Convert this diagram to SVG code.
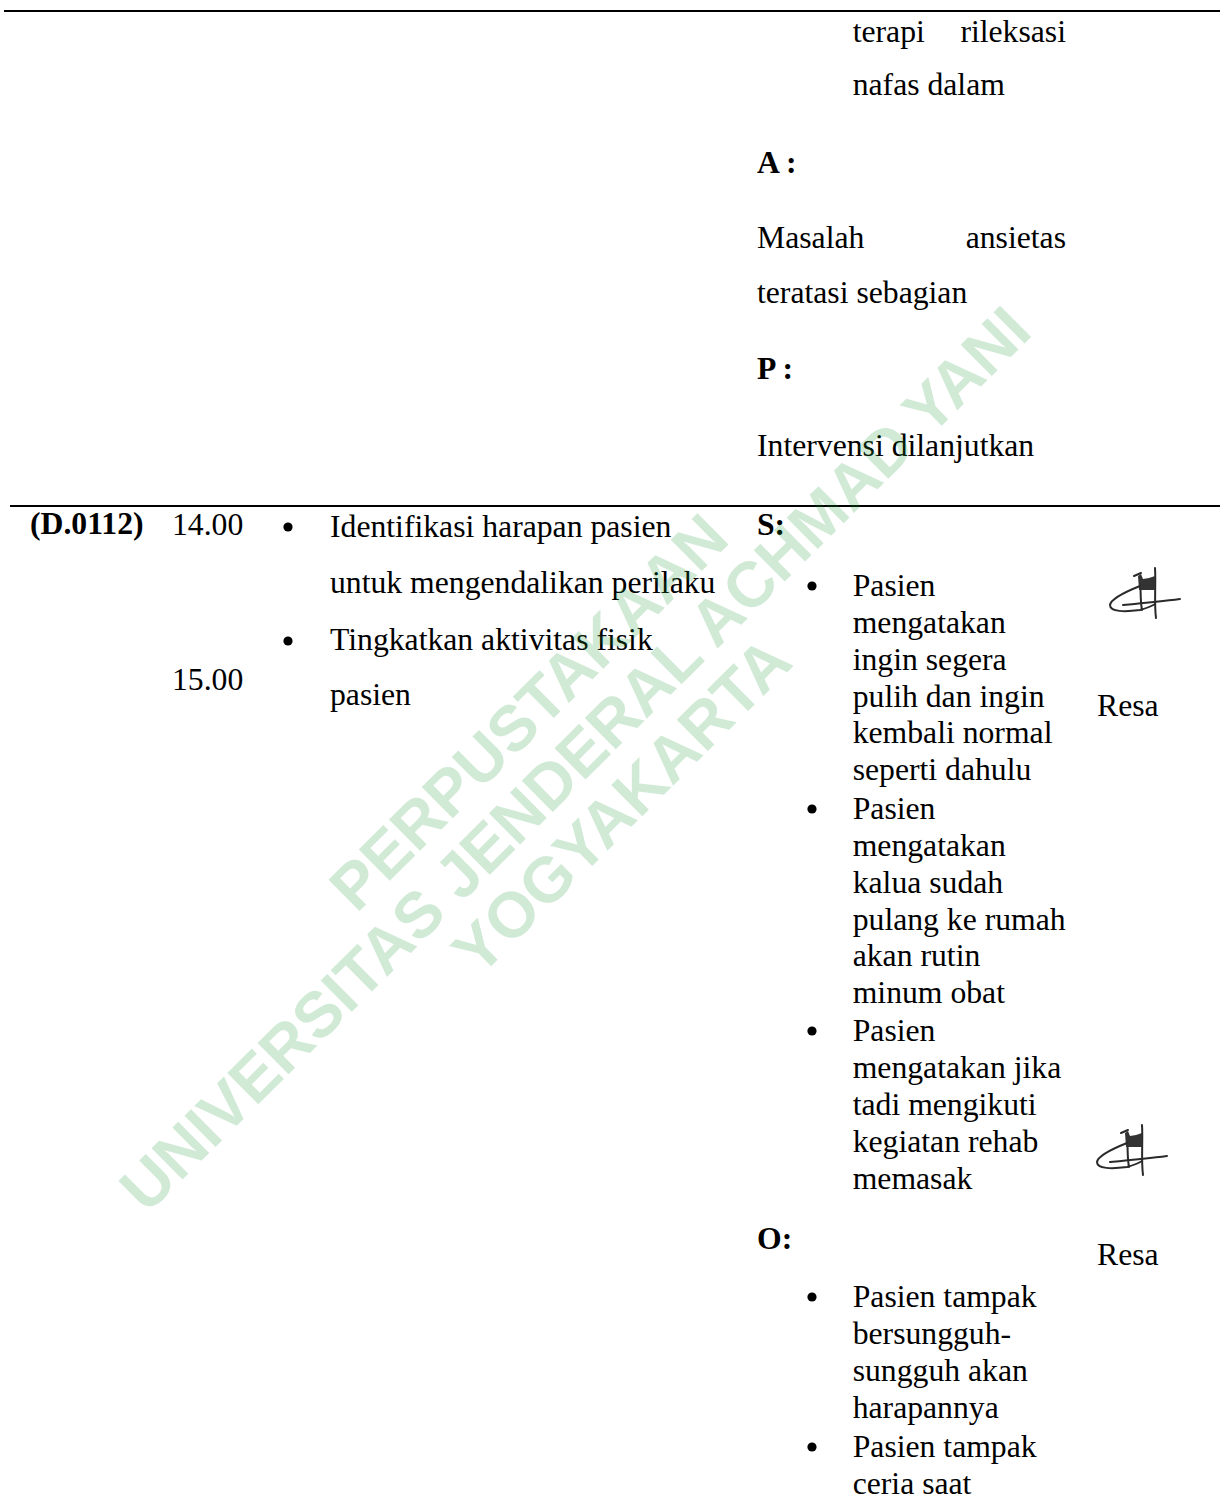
<svg xmlns="http://www.w3.org/2000/svg" width="1220" height="1497" viewBox="0 0 1220 1497">
<style>
text{font-family:"Liberation Serif","Times New Roman",serif;font-size:31.7px;fill:#000}
.b{font-weight:bold}
.e{text-anchor:end}
.rule{stroke:#000;stroke-width:2;fill:none}
.wm text{font-family:"Liberation Sans",Arial,sans-serif;font-weight:bold;font-size:64px;fill:rgb(30,155,55);text-anchor:middle}
.sig{fill:none;stroke:#2a2a2a;stroke-width:2;stroke-linecap:round;stroke-linejoin:round}
</style>
<defs>
<g id="signature">
<path class="sig" d="M0,0 C1,15 -1,35 1,50"/>
<path class="sig" d="M-15,9 C-14,20 -15,32 -13,42"/>
<path d="M-17,8 L-14,6 L-12,11 L-6,10 L0,8 L0,22 L-16,22 Z" fill="#333"/>
<path class="sig" d="M-21,8 L-14,5"/>
<path class="sig" d="M-15,18 C-25,22 -44,30 -45,37 C-45,44 -30,44 -15,42 C-8,40 -3,38 0,36"/>
<path class="sig" d="M-32,37 C-10,35 10,33 25,31"/>
</g>
</defs>
<rect width="1220" height="1497" fill="#fff"/>
<g id="rules">
<line class="rule" x1="4" y1="11" x2="1220" y2="11"/>
<line class="rule" x1="10" y1="506" x2="1220" y2="506"/>
</g>
<g id="prev-eval">
<text x="852.7" y="42">terapi</text>
<text class="e" x="1066" y="42">rileksasi</text>
<text x="852.7" y="95">nafas dalam</text>
<text class="b" x="757" y="173">A :</text>
<text x="757" y="248">Masalah</text>
<text class="e" x="1066" y="248">ansietas</text>
<text x="757" y="303">teratasi sebagian</text>
<text class="b" x="757" y="379">P :</text>
<text x="757" y="456">Intervensi dilanjutkan</text>
</g>
<g id="diagnosis">
<text class="b" x="30" y="534">(D.0112)</text>
</g>
<g id="times">
<text x="172" y="535">14.00</text>
<text x="172" y="690">15.00</text>
</g>
<g id="interventions">
<circle cx="288" cy="527" r="4.6"/>
<circle cx="288" cy="641" r="4.6"/>
<text x="330" y="537">Identifikasi harapan pasien</text>
<text x="330" y="593">untuk mengendalikan perilaku</text>
<text x="330" y="650">Tingkatkan aktivitas fisik</text>
<text x="330" y="705">pasien</text>
</g>
<g id="evaluation">
<text class="b" x="757" y="535">S:</text>
<circle cx="812" cy="586" r="4.6"/>
<circle cx="812" cy="809" r="4.6"/>
<circle cx="812" cy="1031" r="4.6"/>
<text x="852.7" y="596">Pasien</text>
<text x="852.7" y="633">mengatakan</text>
<text x="852.7" y="670">ingin segera</text>
<text x="852.7" y="707">pulih dan ingin</text>
<text x="852.7" y="743">kembali normal</text>
<text x="852.7" y="780">seperti dahulu</text>
<text x="852.7" y="819">Pasien</text>
<text x="852.7" y="856">mengatakan</text>
<text x="852.7" y="893">kalua sudah</text>
<text x="852.7" y="930">pulang ke rumah</text>
<text x="852.7" y="966">akan rutin</text>
<text x="852.7" y="1003">minum obat</text>
<text x="852.7" y="1041">Pasien</text>
<text x="852.7" y="1078">mengatakan jika</text>
<text x="852.7" y="1115">tadi mengikuti</text>
<text x="852.7" y="1152">kegiatan rehab</text>
<text x="852.7" y="1189">memasak</text>
<text class="b" x="757" y="1249">O:</text>
<circle cx="812" cy="1297" r="4.6"/>
<circle cx="812" cy="1447" r="4.6"/>
<text x="852.7" y="1307">Pasien tampak</text>
<text x="852.7" y="1344">bersungguh-</text>
<text x="852.7" y="1381">sungguh akan</text>
<text x="852.7" y="1418">harapannya</text>
<text x="852.7" y="1457">Pasien tampak</text>
<text x="852.7" y="1494">ceria saat</text>
</g>
<g id="sign-1">
<use href="#signature" x="1155" y="568"/>
<text x="1097" y="716">Resa</text>
</g>
<g id="sign-2">
<use href="#signature" x="1142" y="1125"/>
<text x="1097" y="1265">Resa</text>
</g>
<g id="watermark" class="wm" opacity="0.2" transform="translate(590.5,774.5) rotate(-44.8)">
<text x="0" y="-66">PERPUSTAKAAN</text>
<text x="0" y="0">UNIVERSITAS JENDERAL ACHMAD YANI</text>
<text x="0" y="66">YOGYAKARTA</text>
</g>
</svg>
